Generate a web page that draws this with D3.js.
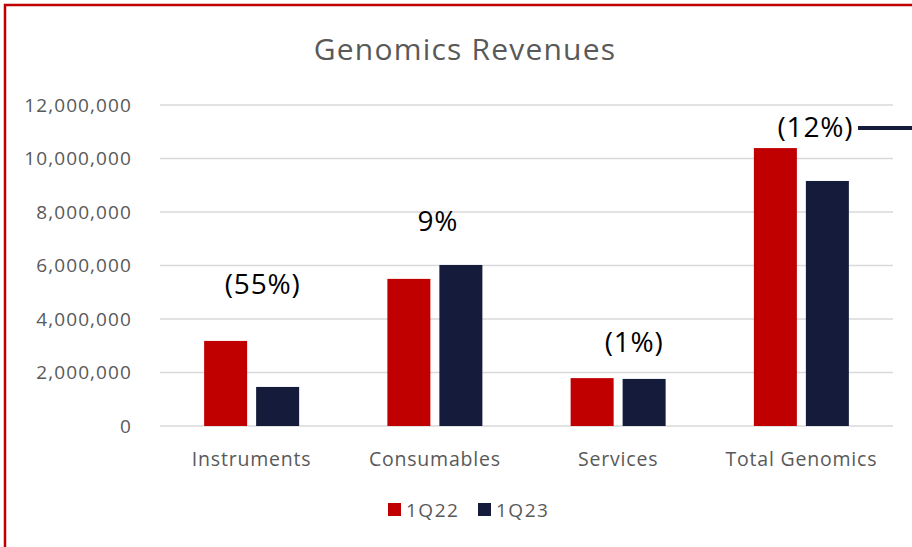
<!DOCTYPE html>
<html><head><meta charset="utf-8">
<script src="https://cdn.jsdelivr.net/npm/d3@7"></script>
<style>body{margin:0;background:#fff}svg{display:block}text{font-family:"Open Sans",sans-serif}</style>
</head><body><svg id="c" width="912" height="547"></svg>
<script>
const categories = ["Instruments","Consumables","Services","Total Genomics"];
const series = ["1Q22","1Q23"];
const values1Q22 = [3180000, 5500000, 1790000, 10390000];
const values1Q23 = [1460000, 6020000, 1760000, 9160000];
const changeLabels = ["(55%)","9%","(1%)","(12%)"];
const yTicks = [0,2000000,4000000,6000000,8000000,10000000,12000000];
const colors = ["#C00000","#151B3A"];

const FONT = "'Open Sans',sans-serif";
const svg = d3.select("#c");
const W=912,H=547;
const m={l:160,r:19,t:105,b:121};
svg.append("rect").attr("x",5).attr("y",5).attr("width",W+10).attr("height",H+10)
  .attr("fill","none").attr("stroke","#C00000").attr("stroke-width",2.5);

const x = d3.scaleBand().domain(categories).range([m.l,W-m.r]).padding(0);
const y = d3.scaleLinear().domain([0,12000000]).range([H-m.b,m.t]);
const barW=43, gap=9;
const xs = d3.scaleOrdinal().domain(series).range([-(gap/2+barW), gap/2]);

const grid = svg.append("g");
grid.selectAll("line").data(yTicks).join("line")
  .attr("x1",m.l).attr("x2",W-m.r).attr("y1",d=>y(d)).attr("y2",d=>y(d))
  .attr("stroke","#D9D9D9").attr("stroke-width",1.5);

const yAxis = d3.axisLeft(y).tickValues(yTicks).tickFormat(d3.format(",")).tickSize(0).tickPadding(28);
const ga = svg.append("g").attr("transform",`translate(${m.l},0)`).call(yAxis);
ga.select(".domain").remove();
ga.selectAll("text").attr("fill","#595959").style("font-size","19px").style("letter-spacing","1.1px").style("font-family",FONT);

const xAxis = d3.axisBottom(x).tickSize(0).tickPadding(26);
const gx = svg.append("g").attr("transform",`translate(0,${H-m.b})`).call(xAxis);
gx.select(".domain").remove();
gx.selectAll("text").attr("fill","#595959").style("font-size","19.5px").style("letter-spacing","0.8px").style("font-family",FONT);

const data = categories.map((c,i)=>({c, v:[values1Q22[i],values1Q23[i]]}));
const g = svg.append("g");
data.forEach(d=>{
  series.forEach((s,j)=>{
    g.append("rect").attr("x",x(d.c)+x.bandwidth()/2+xs(s)).attr("width",barW)
      .attr("y",y(d.v[j])).attr("height",y(0)-y(d.v[j])).attr("fill",colors[j]);
  });
});

const labelDx = [11, 3, 16, 14];
svg.selectAll(".chg").data(changeLabels).join("text").attr("class","chg")
  .attr("x",(d,i)=>x(categories[i])+x.bandwidth()/2+labelDx[i])
  .attr("y",(d,i)=>y(Math.max(values1Q22[i],values1Q23[i]))-[47,34,26,11][i])
  .attr("text-anchor","middle").attr("fill","#000").style("font-size","28px").style("letter-spacing","0.8px").text(d=>d);
svg.append("line").attr("x1",858).attr("x2",912).attr("y1",128).attr("y2",128)
  .attr("stroke","#151B3A").attr("stroke-width",4);

svg.append("text").attr("x",465).attr("y",60).attr("text-anchor","middle")
  .attr("fill","#595959").style("font-size","30px").style("letter-spacing","1.2px").text("Genomics Revenues");

const lg = svg.append("g").attr("transform","translate(388,503)");
series.forEach((s,j)=>{
  const o = j*90;
  lg.append("rect").attr("x",o).attr("y",0).attr("width",13).attr("height",13).attr("fill",colors[j]);
  lg.append("text").attr("x",o+18).attr("y",14).attr("fill","#595959").style("font-size","19px").style("letter-spacing","1.5px").text(s);
});
</script></body></html>
